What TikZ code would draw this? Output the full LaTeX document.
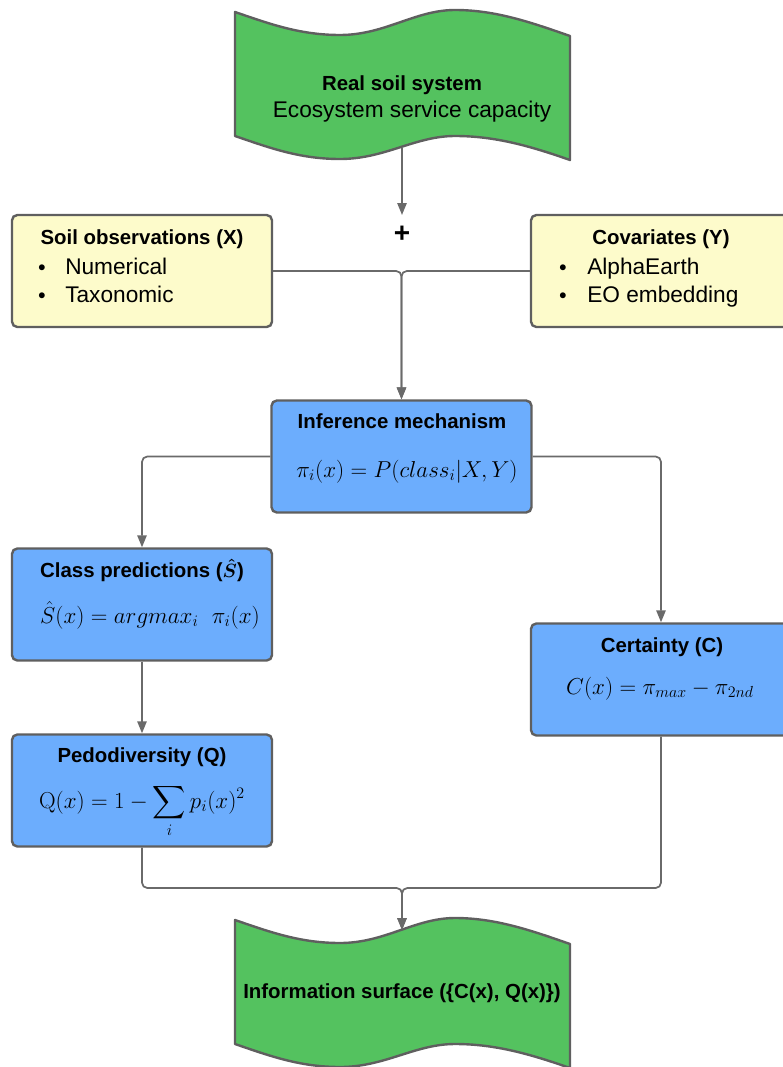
\documentclass[tikz,border=0pt]{standalone}
\usepackage{amsmath,bm}
\usepackage[no-math]{fontspec}
\setmainfont{Liberation Sans}
\usetikzlibrary{arrows.meta}
\definecolor{wavegreen}{HTML}{54C25F}
\definecolor{calcblue}{HTML}{6CADFD}
\definecolor{obsyellow}{HTML}{FDFBCB}
\definecolor{boxline}{HTML}{5F5F5F}
\definecolor{connline}{HTML}{6A6A6A}
\begin{document}
\begin{tikzpicture}[x=0.75pt,y=-0.75pt,
  box/.style={draw=boxline, line width=1.8pt, rounded corners=4pt, minimum width=195pt, minimum height=84pt, inner sep=0pt},
  obs/.style={box, fill=obsyellow},
  calc/.style={box, fill=calcblue},
  wave/.style={draw=boxline, line width=1.8pt, fill=wavegreen, line join=round},
  conn/.style={draw=connline, line width=1.3pt, rounded corners=4pt, -{Triangle[length=9pt,width=7pt]}},
  title/.style={font=\fontsize{15.3}{18}\selectfont\bfseries, anchor=base, inner sep=0pt},
  body/.style={font=\fontsize{17}{20}\selectfont, anchor=base west, inner sep=0pt},
  eq/.style={font=\fontsize{18}{21}\selectfont, anchor=base, inner sep=0pt}]
\useasboundingbox (0,0) rectangle (782,1067);
% real soil system
\draw[wave] (235,12) .. controls (270,24) and (300,35) .. (340,35) .. controls (385,35) and (415,10) .. (455,10) .. controls (495,10) and (530,22) .. (570,36) -- (570,160) .. controls (530,146) and (495,136) .. (455,136) .. controls (415,136) and (385,159) .. (340,159) .. controls (300,159) and (270,148) .. (235,136) -- cycle;
\node[title] (realtitle) at (402,90) {Real soil system};
\node[body, anchor=base] (realsub) at (412,117) {Ecosystem service capacity};
\coordinate (realbot) at (402,148);
\coordinate (plustop) at (402,215);
\node[title, font=\fontsize{21}{24}\selectfont\bfseries, anchor=center] (plus) at (402,234) {+};
% inputs
\node[obs] (soil) at (142,271) {};
\node[title] (soiltitle) at (142,244) {Soil observations (X)};
\node[title] (soilb1) at (42,274) {\textbullet};
\node[body] (soilnum) at (65,274) {Numerical};
\node[title] (soilb2) at (42,302) {\textbullet};
\node[body] (soiltax) at (65,302) {Taxonomic};
\node[obs] (cov) at (661,271) {};
\node[title] (covtitle) at (661,244) {Covariates (Y)};
\node[title] (covb1) at (563,274) {\textbullet};
\node[body] (covae) at (587,274) {AlphaEarth};
\node[title] (covb2) at (563,302) {\textbullet};
\node[body] (coveo) at (587,302) {EO embedding};
% inference
\node[calc] (infer) at (401.5,456.5) {};
\node[title] (infertitle) at (402,428) {Inference mechanism};
\node[eq] (infereq) at (407,477) {$\pi_i(x) = P(class_i|X,Y)$};
% outputs
\node[calc] (cls) at (142,604.5) {};
\node[title] (clstitle) at (142,577) {Class predictions ({\boldmath$\hat{S}$})};
\node[eq] (clseq) at (150,623) {$\hat{S}(x) = argmax_i\ \ \pi_i(x)$};
\node[calc] (cert) at (661,679.5) {};
\node[title] (certtitle) at (662,652) {Certainty (C)};
\node[eq] (certeq) at (660,694) {$C(x) = \pi_{max} - \pi_{2nd}$};
\node[calc] (pedo) at (142,790.5) {};
\node[title] (pedotitle) at (142,762) {Pedodiversity (Q)};
\node[eq] (pedoeq) at (142,808) {$\mathrm{Q}(x) = 1 - \displaystyle\sum_i p_i(x)^2$};
% information surface
\draw[wave] (235,920) .. controls (270,932) and (300,943) .. (340,943) .. controls (385,943) and (415,918) .. (455,918) .. controls (495,918) and (530,930) .. (570,944) -- (570,1068) .. controls (530,1054) and (495,1044) .. (455,1044) .. controls (415,1044) and (385,1067) .. (340,1067) .. controls (300,1067) and (270,1056) .. (235,1044) -- cycle;
\node[title] (infotitle) at (402,998) {Information surface (\{C(x), Q(x)\})};
\coordinate (infotop) at (402,930);
\coordinate (merge) at (402,888);
% connectors
\draw[conn] (realbot) -- (plustop);
\draw[conn] (soil.east) -| (infer.north);
\draw[conn] (cov.west) -| (infer.north);
\draw[conn] (infer.west) -| (cls.north);
\draw[conn] (infer.east) -| (cert.north);
\draw[conn] (cls.south) -- (pedo.north);
\draw[conn] (pedo.south) |- (merge) -- (infotop);
\draw[conn] (cert.south) |- (merge) -- (infotop);
\end{tikzpicture}
\end{document}
